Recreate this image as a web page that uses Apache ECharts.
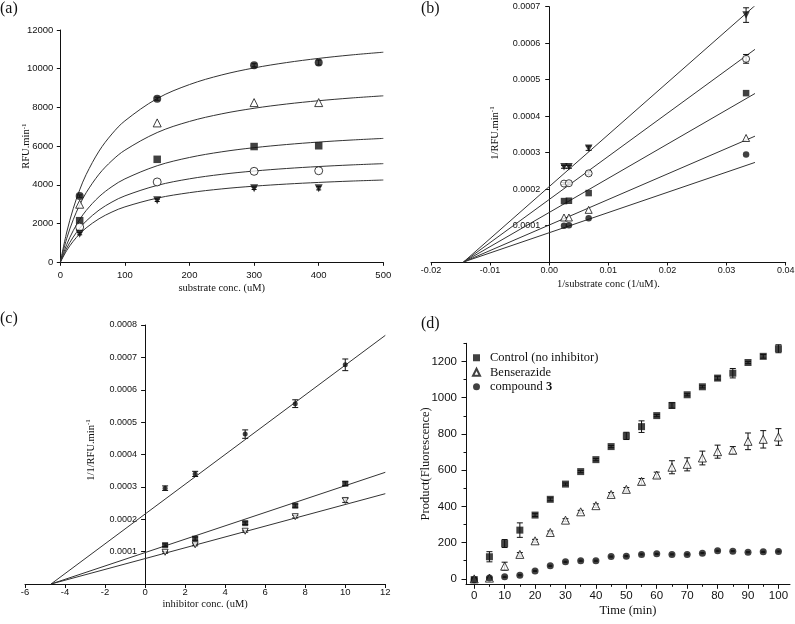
<!DOCTYPE html>
<html><head><meta charset="utf-8">
<script src="https://cdn.jsdelivr.net/npm/echarts@6/dist/echarts.min.js"></script>
<style>html,body{margin:0;padding:0;background:#fff}#c{width:795px;height:624px}</style>
</head><body><div id="c"></div><script>
// ---------- Panel (a): Michaelis-Menten ----------
const aSubstrate = [30, 150, 300, 400];
const aCircle = [3420, 8450, 10180, 10320];
const aCircleErr = [60, 80, 80, 130];
const aTriOpen = [3000, 7200, 8250, 8250];
const aSquare = [2150, 5320, 5980, 6020];
const aCircleOpen = [1820, 4150, 4700, 4730];
const aTriDown = [1480, 3200, 3820, 3830];
const aTriDownErr = [60, 60, 60, 90];
const aCurveX = [0, 10, 20, 30, 40, 60, 80, 100, 150, 200, 250, 300, 350, 400, 450, 500];
const aCurve1 = [0, 1563, 2775, 3742, 4532, 5744, 6631, 7307, 8459, 9182, 9679, 10041, 10316, 10533, 10709, 10852];
const aCurve2 = [0, 1239, 2199, 2966, 3592, 4552, 5255, 5791, 6703, 7277, 7670, 7957, 8175, 8347, 8486, 8600];
const aCurve3 = [0, 922, 1637, 2207, 2673, 3387, 3910, 4309, 4988, 5415, 5708, 5921, 6083, 6212, 6315, 6400];
const aCurve4 = [0, 734, 1303, 1757, 2129, 2698, 3114, 3432, 3972, 4312, 4545, 4715, 4845, 4947, 5029, 5096];
const aCurve5 = [0, 612, 1087, 1466, 1776, 2250, 2598, 2863, 3314, 3597, 3792, 3933, 4041, 4126, 4195, 4251];
const aXTicks = [0, 100, 200, 300, 400, 500];
const aYTicks = [0, 2000, 4000, 6000, 8000, 10000, 12000];

// ---------- Panel (b): Lineweaver-Burk ----------
const bInvS = [0.0025, 0.00333, 0.00667, 0.0333];
const bTriDown = [0.000261, 0.000261, 0.000312, 0.000677];
const bTriDownErr = [0.000004, 0.000004, 0.000006, 0.00002];
const bCircleOpen = [0.000215, 0.000216, 0.000243, 0.000557];
const bCircleOpenErr = [0.000003, 0.000003, 0.000004, 0.000012];
const bSquare = [0.000167, 0.000168, 0.000189, 0.000463];
const bTriOpen = [0.000122, 0.000122, 0.000143, 0.000340];
const bCircle = [0.0000996, 0.000101, 0.000120, 0.000295];
const bLineX = [-0.0145, 0.0348];
const bLine1 = [0, 0.000703];
const bLine2 = [0, 0.000583];
const bLine3 = [0, 0.000462];
const bLine4 = [0, 0.000345];
const bLine5 = [0, 0.000273];
const bXTicks = [-0.02, -0.01, 0, 0.01, 0.02, 0.03, 0.04];
const bYTicks = [0.0001, 0.0002, 0.0003, 0.0004, 0.0005, 0.0006, 0.0007];

// ---------- Panel (c): Dixon ----------
const cInhibitor = [1, 2.5, 5, 7.5, 10];
const cTop = [0.000296, 0.000340, 0.000463, 0.000557, 0.000677];
const cTopErr = [0.000007, 0.000008, 0.000013, 0.000012, 0.000018];
const cMid = [0.000120, 0.000140, 0.000188, 0.000242, 0.000310];
const cMidErr = [0.000004, 0.000005, 0.000004, 0.000005, 0.000006];
const cBot = [0.000098, 0.000121, 0.000163, 0.000208, 0.000258];
const cBotErr = [0.000003, 0.000003, 0.000003, 0.000004, 0.000006];
const cLineX = [-4.7, 12];
const cLine1 = [0, 0.000768];
const cLine2 = [0, 0.000345];
const cLine3 = [0, 0.000279];
const cXTicks = [-6, -4, -2, 0, 2, 4, 6, 8, 10, 12];
const cYTicks = [0.0001, 0.0002, 0.0003, 0.0004, 0.0005, 0.0006, 0.0007, 0.0008];

// ---------- Panel (d): time course ----------
const dTime = [0, 5, 10, 15, 20, 25, 30, 35, 40, 45, 50, 55, 60, 65, 70, 75, 80, 85, 90, 95, 100];
const dControl = [-4, 122, 195, 269, 352, 439, 523, 592, 658, 730, 789, 840, 901, 957, 1016, 1060, 1108, 1135, 1194, 1228, 1270];
const dControlErr = [8, 28, 22, 40, 8, 8, 6, 6, 6, 6, 20, 32, 6, 15, 6, 6, 10, 26, 6, 10, 22];
const dBenserazide = [0, 4, 70, 135, 210, 256, 324, 370, 404, 466, 494, 538, 573, 616, 632, 667, 702, 710, 759, 770, 783];
const dBenserazideErr = [5, 5, 22, 10, 8, 8, 8, 8, 10, 10, 10, 16, 16, 36, 36, 38, 36, 20, 46, 48, 46];
const dCompound3 = [-5, 5, 11, 20, 44, 72, 94, 100, 100, 123, 125, 135, 138, 135, 135, 142, 155, 153, 147, 149, 151];
const dCompound3Err = [3, 3, 3, 3, 3, 3, 3, 3, 3, 3, 3, 3, 3, 3, 3, 3, 3, 3, 3, 3, 3];
const dXTicks = [0, 10, 20, 30, 40, 50, 60, 70, 80, 90, 100];
const dXMinor = [5, 15, 25, 35, 45, 55, 65, 75, 85, 95];
const dYTicks = [0, 200, 400, 600, 800, 1000, 1200];
const dYMinor = [100, 300, 500, 700, 900, 1100, 1300];
const dNames = ['Control (no inhibitor)', 'Benserazide', 'compound 3'];

const SANS = 'Arial, "Liberation Sans", sans-serif';
const SERIF = '"Liberation Serif", "Times New Roman", serif';
const INK = '#111';

// grid boxes (pixels)
const GB = { left: 431, width: 354.7, xmin: -0.02, xmax: 0.04 };
const GC = { left: 25, width: 360.3, xmin: -6, xmax: 12 };
const zeroOffset = g => -((0 - g.xmin) / (g.xmax - g.xmin) * g.width);

function pairs(xs, ys) { return xs.map((x, i) => [x, ys[i]]); }
function errs(xs, ys, es) { return xs.map((x, i) => [x, ys[i] - es[i], ys[i] + es[i]]); }

function scatter(gi, xs, ys, symbol, open, size, rotate, name) {
  return {
    type: 'scatter', name: name, xAxisIndex: gi, yAxisIndex: gi, data: pairs(xs, ys),
    symbol: symbol, symbolSize: size, symbolRotate: rotate || 0, z: 4, silent: true,
    itemStyle: open ? { color: '#fff', borderColor: INK, borderWidth: 1 } : { color: INK, borderWidth: 0 }
  };
}
function fit(gi, xs, ys, smooth) {
  return {
    type: 'line', xAxisIndex: gi, yAxisIndex: gi, data: pairs(xs, ys), symbol: 'none',
    smooth: smooth ? 0.35 : false, lineStyle: { color: '#333', width: 1 }, z: 2, silent: true
  };
}
function errorBars(gi, xs, ys, es, cap) {
  return {
    type: 'custom', xAxisIndex: gi, yAxisIndex: gi, data: errs(xs, ys, es), z: 3, silent: true,
    encode: { x: 0, y: [1, 2] },
    renderItem: function (params, api) {
      const x = api.value(0), lo = api.value(1), hi = api.value(2);
      const p1 = api.coord([x, hi]), p2 = api.coord([x, lo]);
      const st = { stroke: INK, lineWidth: 1 };
      return { type: 'group', children: [
        { type: 'line', shape: { x1: p1[0], y1: p1[1], x2: p2[0], y2: p2[1] }, style: st },
        { type: 'line', shape: { x1: p1[0] - cap, y1: p1[1], x2: p1[0] + cap, y2: p1[1] }, style: st },
        { type: 'line', shape: { x1: p2[0] - cap, y1: p2[1], x2: p2[0] + cap, y2: p2[1] }, style: st }
      ] };
    }
  };
}
const plain = v => String(v);
function axis(o) {
  const base = {
    type: 'value', splitLine: { show: false }, nameMoveOverlap: false,
    axisLine: { show: true, onZero: false, lineStyle: { color: INK, width: 1 } },
    axisTick: { show: true, inside: false, length: 4, lineStyle: { color: INK } },
    axisLabel: { color: INK, fontFamily: SANS, fontSize: 9.5, formatter: plain },
    nameLocation: 'middle',
    nameTextStyle: { color: INK, fontFamily: SERIF, fontSize: 10.5 }
  };
  const r = Object.assign({}, base, o);
  ['axisLine', 'axisTick', 'axisLabel', 'nameTextStyle'].forEach(k => {
    if (o[k]) r[k] = Object.assign({}, base[k], o[k]);
  });
  return r;
}
const supRich = { s: { fontSize: 7, fontFamily: SERIF, fill: INK, color: INK, verticalAlign: 'top', lineHeight: 7 } };
function vTitle(text, cx, cy) {
  return {
    type: 'text', x: cx, y: cy, rotation: Math.PI / 2, silent: true,
    style: { text: text, fontFamily: SERIF, fontSize: 10.5, fill: INK, align: 'center', verticalAlign: 'middle',
      lineHeight: 12, rich: supRich }
  };
}

const chart = echarts.init(document.getElementById('c'), null, { renderer: 'canvas', width: 795, height: 624 });
const option = {
  animation: false,
  backgroundColor: '#fff',
  textStyle: { fontFamily: SANS },
  title: [
    { text: '(a)', left: 0, top: 1, padding: 0, textStyle: { fontFamily: SERIF, fontSize: 16, fontWeight: 'normal', color: INK } },
    { text: '(b)', left: 421, top: 1, padding: 0, textStyle: { fontFamily: SERIF, fontSize: 16, fontWeight: 'normal', color: INK } },
    { text: '(c)', left: 0, top: 311, padding: 0, textStyle: { fontFamily: SERIF, fontSize: 16, fontWeight: 'normal', color: INK } },
    { text: '(d)', left: 421, top: 316, padding: 0, textStyle: { fontFamily: SERIF, fontSize: 16, fontWeight: 'normal', color: INK } }
  ],
  graphic: [
    vTitle('1/RFU.min{s|-1}', 495, 133),
    vTitle('1/1/RFU.min{s|-1}', 91, 450)
  ],
  grid: [
    { left: 60.3, top: 30, width: 323, height: 232.3, outerBoundsMode: 'none' },
    { left: GB.left, top: 6.7, width: GB.width, height: 255.3, outerBoundsMode: 'none' },
    { left: GC.left, top: 325, width: GC.width, height: 259, outerBoundsMode: 'none' },
    { left: 466, top: 343.3, width: 324, height: 241, outerBoundsMode: 'none' }
  ],
  legend: {
    data: dNames.map((n, i) => ({ name: n, icon: ['rect', 'triangle', 'circle'][i] })),
    orient: 'vertical', left: 472, top: 351, padding: 0, itemGap: 1,
    itemWidth: 7, itemHeight: 7, selectedMode: false,
    formatter: function (n) { return n === 'compound 3' ? 'compound {b|3}' : n; },
    textStyle: { fontFamily: SERIF, fontSize: 12.5, color: INK, lineHeight: 13.5, padding: [0, 0, 0, 5],
      rich: { b: { fontFamily: SERIF, fontSize: 12.5, fontWeight: 'bold', color: INK } } }
  },
  xAxis: [
    axis({ gridIndex: 0, min: 0, max: 500, axisLabel: { customValues: aXTicks, margin: 8 }, axisTick: { customValues: aXTicks, length: 3.5 },
      name: 'substrate conc. (uM)', nameGap: 20 }),
    axis({ gridIndex: 1, min: GB.xmin, max: GB.xmax,
      axisLabel: { customValues: bXTicks, margin: 4, fontSize: 9, formatter: v => v.toFixed(2) }, axisTick: { customValues: bXTicks, length: 3.5 },
      name: '1/substrate conc (1/uM).', nameGap: 17 }),
    axis({ gridIndex: 2, min: GC.xmin, max: GC.xmax,
      axisLabel: { customValues: cXTicks, margin: 3, fontSize: 9.5 }, axisTick: { customValues: cXTicks, length: 4 },
      name: 'inhibitor conc. (uM)', nameGap: 15 }),
    axis({ gridIndex: 3, min: -2.7, max: 103.8, position: 'bottom',
      axisLabel: { customValues: dXTicks, margin: 6, fontSize: 11.5 }, axisTick: { customValues: dXTicks, length: 4.5 },
      name: 'Time (min)', nameGap: 20, nameTextStyle: { fontSize: 12.5 } }),
    axis({ gridIndex: 3, min: -2.7, max: 103.8, position: 'bottom', axisLine: { show: false },
      axisLabel: { show: false }, axisTick: { customValues: dXMinor, length: 2.5 } })
  ],
  yAxis: [
    axis({ gridIndex: 0, min: 0, max: 12000, axisLabel: { customValues: aYTicks, margin: 7 }, axisTick: { customValues: aYTicks, length: 3.5 },
      name: 'RFU.min{s|-1}', nameGap: 28, nameTextStyle: { fontSize: 10.5, lineHeight: 12, rich: supRich } }),
    axis({ gridIndex: 1, min: 0, max: 0.0007, position: 'left', offset: zeroOffset(GB),
      axisLabel: { customValues: bYTicks, margin: 9, fontSize: 9, formatter: v => v.toFixed(4) }, axisTick: { customValues: bYTicks, length: 4 } }),
    axis({ gridIndex: 2, min: 0, max: 0.0008, position: 'left', offset: zeroOffset(GC),
      axisLabel: { customValues: cYTicks, margin: 8, fontSize: 9, formatter: v => v.toFixed(4) }, axisTick: { customValues: cYTicks, length: 4 } }),
    axis({ gridIndex: 3, min: -30, max: 1300, position: 'left',
      axisLabel: { customValues: dYTicks, margin: 9, fontSize: 11.5 }, axisTick: { customValues: dYTicks, length: 4.5 },
      name: 'Product(Fluorescence)', nameGap: 34, nameTextStyle: { fontSize: 12.5 } }),
    axis({ gridIndex: 3, min: -30, max: 1300, position: 'left', axisLine: { show: false },
      axisLabel: { show: false }, axisTick: { customValues: dYMinor, length: 2.5 } })
  ],
  series: [
    // (a)
    fit(0, aCurveX, aCurve1, true), fit(0, aCurveX, aCurve2, true), fit(0, aCurveX, aCurve3, true),
    fit(0, aCurveX, aCurve4, true), fit(0, aCurveX, aCurve5, true),
    errorBars(0, aSubstrate, aCircle, aCircleErr, 2.5),
    errorBars(0, aSubstrate, aTriDown, aTriDownErr, 2.5),
    scatter(0, aSubstrate, aCircle, 'circle', false, 8),
    scatter(0, aSubstrate, aTriOpen, 'triangle', true, 8),
    scatter(0, aSubstrate, aSquare, 'rect', false, 7.5),
    scatter(0, aSubstrate, aCircleOpen, 'circle', true, 8),
    scatter(0, aSubstrate, aTriDown, 'triangle', false, 8, 180),
    // (b)
    fit(1, bLineX, bLine1), fit(1, bLineX, bLine2), fit(1, bLineX, bLine3), fit(1, bLineX, bLine4), fit(1, bLineX, bLine5),
    errorBars(1, bInvS, bTriDown, bTriDownErr, 3),
    errorBars(1, bInvS, bCircleOpen, bCircleOpenErr, 3),
    scatter(1, bInvS, bTriDown, 'triangle', false, 7.5, 180),
    scatter(1, bInvS, bCircleOpen, 'circle', true, 7),
    scatter(1, bInvS, bSquare, 'rect', false, 6.5),
    scatter(1, bInvS, bTriOpen, 'triangle', true, 7),
    scatter(1, bInvS, bCircle, 'circle', false, 6.5),
    // (c)
    fit(2, cLineX, cLine1), fit(2, cLineX, cLine2), fit(2, cLineX, cLine3),
    errorBars(2, cInhibitor, cTop, cTopErr, 3),
    errorBars(2, cInhibitor, cMid, cMidErr, 3),
    errorBars(2, cInhibitor, cBot, cBotErr, 3),
    scatter(2, cInhibitor, cTop, 'circle', false, 5),
    scatter(2, cInhibitor, cMid, 'rect', false, 6),
    scatter(2, cInhibitor, cBot, 'triangle', true, 6, 180),
    // (d)
    errorBars(3, dTime, dControl, dControlErr, 3),
    errorBars(3, dTime, dBenserazide, dBenserazideErr, 3),
    errorBars(3, dTime, dCompound3, dCompound3Err, 2),
    scatter(3, dTime, dControl, 'rect', false, 7, 0, dNames[0]),
    scatter(3, dTime, dBenserazide, 'triangle', true, 8, 0, dNames[1]),
    scatter(3, dTime, dCompound3, 'circle', false, 7, 0, dNames[2])
  ]
};
chart.setOption(option);
</script></body></html>
